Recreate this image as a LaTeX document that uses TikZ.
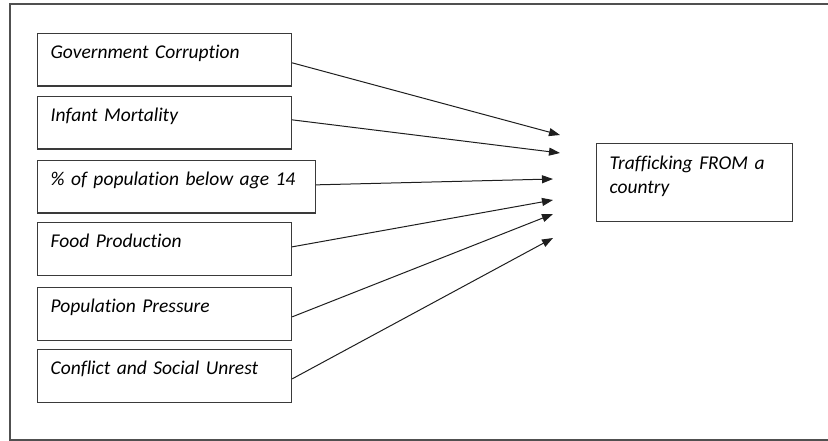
\documentclass[tikz,border=0pt]{standalone}
\usepackage{fontspec}
\setmainfont{Carlito}[Ligatures=NoCommon]
\usetikzlibrary{arrows.meta,positioning}
\definecolor{cborde}{HTML}{3A3A3A}
\definecolor{cmarco}{HTML}{505050}
\definecolor{clinea}{HTML}{1E1E1E}
\tikzset{
  caja/.style={draw=cborde,line width=1.2pt,fill=white,align=left,
               inner xsep=13pt,inner ysep=0pt,
               font=\fontsize{19.5}{24}\selectfont\itshape,
               text height=25pt,text depth=27.5pt},
  factor/.style={caja,text width=228pt},
  flecha/.style={-{Triangle[length=11pt,width=8pt]},draw=clinea,line width=1pt},
}

\begin{document}
\begin{tikzpicture}[x=1pt,y=-1pt,
  destino/.style={caja,text width=170pt,text height=26pt,text depth=52pt},
  marco/.style={draw=cmarco,line width=1.5pt}]

\useasboundingbox (0,0) rectangle (828,441);
\clip (0,0) rectangle (828,441);
\draw[marco] (10,4) rectangle (840,440);

% ---------------- factores ----------------
\node[factor,anchor=north west] (gc) at (37,33)  {Government Corruption};
\node[factor,anchor=north west] (im) at (37,96)  {Infant Mortality};
\node[factor,anchor=north west,text width=252pt] (pb) at (37,160)
  {\% of population below age 14};
\node[factor,anchor=north west] (fp) at (37,222) {Food Production};
\node[factor,anchor=north west] (pp) at (37,287) {Population Pressure};
\node[factor,anchor=north west] (cs) at (37,349) {Conflict and Social Unrest};

% ---------------- resultado ----------------
\node[destino,anchor=north west] (tf) at (596,143) {Trafficking FROM a\\country};

% ---------------- flechas ----------------
\coordinate (p1) at (560,135);
\coordinate (p2) at (560,153);
\coordinate (p3) at (553,179);
\coordinate (p4) at (553,200);
\coordinate (p5) at (553,214);
\coordinate (p6) at (553,238);

\draw[flecha] ([yshift=-3pt]gc.east) -- (p1);
\draw[flecha] ([yshift=3pt]im.east) -- (p2);
\draw[flecha] ([yshift=2pt]pb.east) -- (p3);
\draw[flecha] ([yshift=2pt]fp.east) -- (p4);
\draw[flecha] ([yshift=-3pt]pp.east) -- (p5);
\draw[flecha] ([yshift=-3pt]cs.east) -- (p6);

\end{tikzpicture}
\end{document}
